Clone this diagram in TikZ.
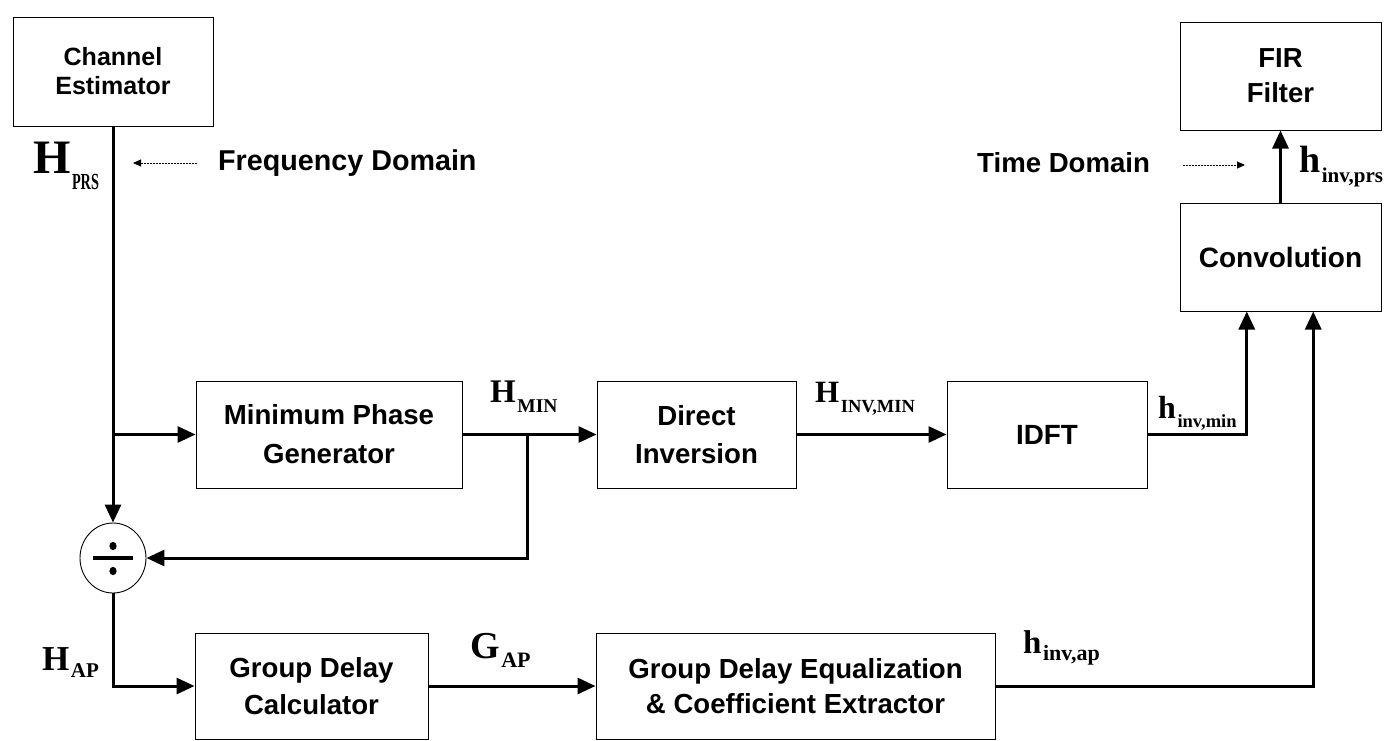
\documentclass[tikz,border=0pt]{standalone}
\usepackage{fontspec}
\usepackage{graphicx}
\usetikzlibrary{arrows.meta,shapes.geometric,calc}

\newfontfamily\lsans{Liberation Sans}
\newfontfamily\lserif{Liberation Serif}

% bold sans font for block captions: size, baselineskip
\newcommand\blkfont[2]{\lsans\bfseries\fontsize{#1}{#2}\selectfont}
% signal name: main size, main letter, subscript size, subscript, subscript drop
\newcommand\siglabel[5]{%
  {\lserif\bfseries\fontsize{#1}{#1}\selectfont #2}\kern1.5pt%
  \raisebox{-#5pt}{\lserif\bfseries\fontsize{#3}{#3}\selectfont #4}}

\begin{document}
\begin{tikzpicture}[x=1pt,y=-1pt,
  blk/.style={draw=black, line width=1pt, align=center, inner sep=0pt, fill=white},
  conn/.style={line width=3pt, -{Triangle[length=18pt,width=16pt]}},
  dotarrow/.style={line width=0.9pt, dash pattern=on 1.6pt off 1.4pt,
                   -{Triangle[length=8pt,width=7pt]}},
  lbl/.style={inner sep=0pt, anchor=base west},
  note/.style={inner sep=0pt, anchor=base west}]

\fill[white] (0,0) rectangle (1388,740);
\useasboundingbox (0,0) rectangle (1388,740);

% processing blocks
\node[blk, minimum width=200, minimum height=109, font=\blkfont{25}{29}] (ce) at (113,71.5) {Channel\\Estimator};
\node[blk, minimum width=201, minimum height=108, font=\blkfont{27.5}{35}] (fir) at (1280.5,76) {FIR\\Filter};
\node[blk, minimum width=201, minimum height=108, font=\blkfont{28}{34}] (conv) at (1280.5,257) {Convolution};
\node[blk, minimum width=266, minimum height=107, font=\blkfont{27.6}{39}] (mpg) at (329,434.5) {Minimum Phase\\Generator};
\node[blk, minimum width=199, minimum height=107, font=\blkfont{27.6}{38}] (di) at (696.5,434.5) {Direct\\Inversion};
\node[blk, minimum width=200, minimum height=107, font=\blkfont{27.8}{34}] (idft) at (1047,434.5) {IDFT};
\node[blk, minimum width=233, minimum height=106, font=\blkfont{27.6}{37}] (gdc) at (311.5,686) {Group Delay\\Calculator};
\node[blk, minimum width=399, minimum height=106, font=\blkfont{27.6}{35}] (gde) at (795.5,686) {Group Delay Equalization\\\& Coefficient Extractor};

% divider
\node[ellipse, draw=black, line width=0.9pt, minimum width=66, minimum height=70, inner sep=0pt] (div) at (113,558) {};
\draw[line width=3.5pt] ([xshift=-20pt]div.center) -- ([xshift=20pt]div.center);
\fill ([yshift=12pt]div.center) ellipse [x radius=3.6pt, y radius=4.2pt];
\fill ([yshift=-13pt]div.center) ellipse [x radius=3.6pt, y radius=4.2pt];

% signal names
\node[lbl] (hprs) at (33,173) {\siglabel{48}{H}{23}{\scalebox{0.62}[1]{PRS}}{16}};
\node[lbl] (hmin) at (490,402) {\siglabel{33}{H}{19.5}{MIN}{10}};
\node[lbl] (hinvmin) at (815,402) {\siglabel{31}{H}{18.5}{INV,MIN}{10}};
\node[lbl] (tinvmin) at (1158,418) {\siglabel{32}{h}{18.5}{inv,min}{9}};
\node[lbl] (tinvprs) at (1299,172) {\siglabel{38}{h}{21}{inv,prs}{10}};
\node[lbl] (hap) at (42,670) {\siglabel{35}{H}{21}{AP}{7}};
\node[lbl] (gap) at (470,658) {\siglabel{38}{G}{22}{AP}{9}};
\node[lbl] (tinvap) at (1023,653) {\siglabel{33}{h}{22}{inv,ap}{7}};

% domain notes
\node[note, font=\blkfont{28.7}{30}] (fd) at (218,170) {Frequency Domain};
\node[note, font=\blkfont{27.6}{30}] (td) at (977,172) {Time Domain};
\coordinate (fdtail) at (197,163);
\coordinate (fdtip) at (133,163);
\coordinate (tdtail) at (1183,165);
\coordinate (tdtip) at (1245,165);
\draw[dotarrow] (fdtail) -- (fdtip);
\draw[dotarrow] (tdtail) -- (tdtip);

% signal flow
\coordinate (br1) at (ce.south |- mpg.west);
\coordinate (mx) at (527,0);
\coordinate (br2) at (mx |- mpg.east);
\coordinate (cin1) at ($(conv.south west)!0.333!(conv.south east)$);
\coordinate (cin2) at ($(conv.south west)!0.662!(conv.south east)$);

\draw[conn] (ce.south) -- (div.north);
\draw[conn] (br1) -- (mpg.west);
\draw[conn] (mpg.east) -- (di.west);
\draw[conn] (br2) |- (div.east);
\draw[conn] (di.east) -- (idft.west);
\draw[conn] (idft.east) -| (cin1);
\draw[conn] (div.south) |- (gdc.west);
\draw[conn] (gdc.east) -- (gde.west);
\draw[conn] (gde.east) -| (cin2);
\draw[conn] (conv.north) -- (fir.south);
\end{tikzpicture}
\end{document}
